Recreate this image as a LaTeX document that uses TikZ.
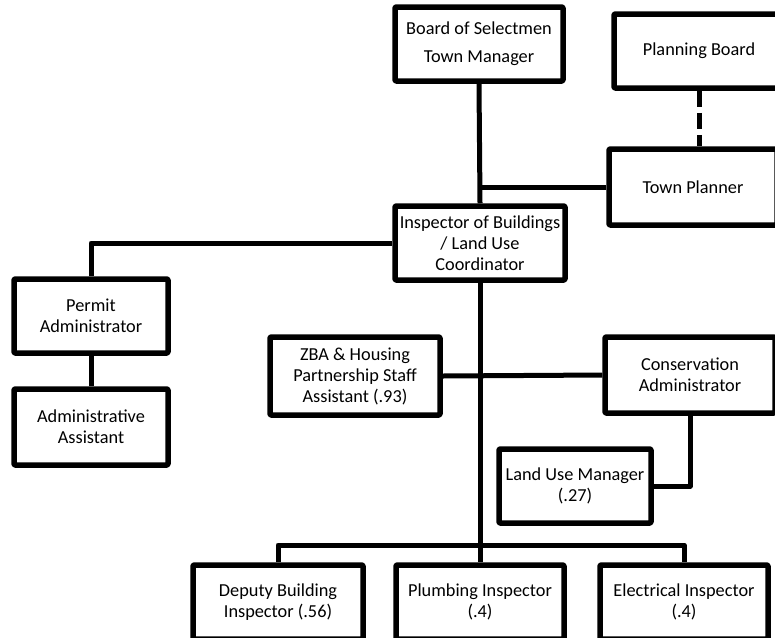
\documentclass[tikz,border=0pt]{standalone}
\usepackage{fontspec}
\setmainfont{Carlito}
\begin{document}
\begin{tikzpicture}[x=1pt, y=-1pt, line join=round,
	post/.style={draw, line width=5.5pt, rounded corners=1pt, align=center,
		inner sep=1pt, minimum width=168pt, minimum height=74pt,
		font=\fontsize{18.3}{21}\selectfont},
	link/.style={line width=5pt}]
		% Frame
		\useasboundingbox (0,0) rectangle (775,637);
		
		% Boxes
		\node[post] (board) at (479,44) {Board of Selectmen\\[7pt]Town Manager};
		\node[post, minimum width=170pt] (planning) at (699,51) {Planning Board};
		\node[post, minimum height=76pt] (planner) at (693,187) {Town Planner};
		\node[post, minimum width=170pt] (inspector) at (480,243) {Inspector of Buildings\\/ Land Use\\Coordinator};
		\node[post, minimum width=154pt] (permit) at (91,316) {Permit\\Administrator};
		\node[post, minimum width=154pt, minimum height=76pt] (admin) at (91,427) {Administrative\\Assistant};
		\node[post, minimum width=170pt, minimum height=78pt] (zba) at (355,376) {ZBA \& Housing\\Partnership Staff\\Assistant (.93)};
		\node[post, minimum width=170pt, minimum height=76pt] (conservation) at (690,375) {Conservation\\Administrator};
		\node[post, minimum width=152pt] (landuse) at (575,486) {Land Use Manager\\(.27)};
		%
		\node[post, minimum width=170pt] (deputy) at (278,602) {Deputy Building\\Inspector (.56)};
		\node[post] (plumbing) at (480,602) {Plumbing Inspector\\(.4)};
		\node[post] (electrical) at (684,602) {Electrical Inspector\\(.4)};
		
		% Coordinates
		\coordinate (bus) at (480,545);
		
		% Lines
		\draw[link] (board.south) -- (inspector.north);
		\draw[link] (planner.west) -- (planner.west -| board.south);
		\draw[link, dash pattern=on 16pt off 6pt] (planning.south) -- (planning.south |- planner.north);
		\draw[link] (inspector.west) -| (permit.north);
		\draw[link] (permit.south) -- (admin.north);
		\draw[link] (inspector.south) -- (plumbing.north);
		\draw[link] (zba.east) -- (conservation.west);
		\draw[link] (conservation.south) |- (landuse.east);
		\draw[link] (deputy.north) |- (bus) -| (electrical.north);
	\end{tikzpicture}
\end{document}
